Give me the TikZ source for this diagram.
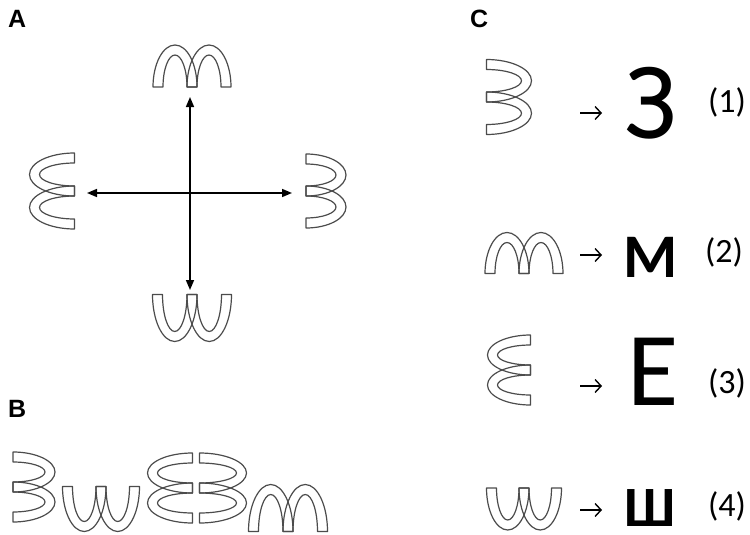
\documentclass[tikz,border=0pt]{standalone}
\usepackage{fontspec}
\setmainfont{Carlito}
\newfontfamily\labelfont{Liberation Sans}
\usetikzlibrary{arrows.meta}
\tikzset{
  shapeline/.style={draw=black!70, line width=1.2pt, line join=round},
  dblarrow/.style={line width=1.5pt, {Triangle[length=10pt,width=8pt]}-{Triangle[length=10pt,width=8pt]}},
  maparrow/.style={line width=1.4pt, -{Straight Barb[length=6pt,width=13pt,line width=1.4pt]}},
  panel/.style={font=\labelfont\bfseries\fontsize{25}{25}\selectfont, anchor=base west, inner sep=0pt},
  bigglyph/.style={anchor=base, inner sep=0pt},
  numlabel/.style={anchor=base, inner sep=0pt, font=\fontsize{34}{34}\selectfont},
  pics/mshape/.style n args={3}{code={
     \pgfmathsetmacro\ao{(#1+#3)/4}
     \pgfmathsetmacro\ai{\ao-#3}
     \pgfmathsetmacro\cc{\ao-#3/2}
     \pgfmathsetmacro\bo{#2}
     \pgfmathsetmacro\bi{#2-#3}
     \pgfmathsetmacro\hb{#2/2}
     \foreach \s in {-1,1}{
       \draw[shapeline] (\s*\cc-\ao,\hb) arc[start angle=180,end angle=360,x radius=\ao,y radius=\bo]
         -- (\s*\cc+\ai,\hb) arc[start angle=360,end angle=180,x radius=\ai,y radius=\bi] -- cycle;
     }
  }},
}
\begin{document}
\begin{tikzpicture}[x=1pt,y=-1pt]
\useasboundingbox (0,0) rectangle (750,535);
\fill[white] (0,0) rectangle (750,535);

% panel labels
\node[panel] (labA) at (8,28) {A};
\node[panel] (labB) at (8,417) {B};
\node[panel] (labC) at (470,28) {C};

% ---- panel A ----
\pic at (192,66) {mshape={78}{42}{10}};
\pic[rotate=-90] at (326,191) {mshape={74}{40}{10}};
\pic[rotate=90] at (52,191) {mshape={76}{45}{10}};
\pic[rotate=180] at (192,318) {mshape={79}{47}{10}};
\coordinate (aT) at (190,97);
\coordinate (aB) at (190,290);
\coordinate (aL) at (87,193);
\coordinate (aR) at (292,193);
\draw[dblarrow] (aT) -- (aB);
\draw[dblarrow] (aL) -- (aR);

% ---- panel B ----
\pic[rotate=-90] at (34,487) {mshape={70}{42}{10}};
\pic[rotate=180] at (101,509) {mshape={77}{45}{10}};
\pic[rotate=90] at (170,488) {mshape={70}{45}{10}};
\pic[rotate=-90] at (223,488) {mshape={70}{47}{10}};
\pic at (288,508) {mshape={79}{47}{10}};

% ---- panel C ----
\pic[rotate=-90] at (509,97) {mshape={75}{45}{10}};
\pic at (524,253) {mshape={78}{41}{10}};
\pic[rotate=90] at (509,370) {mshape={70}{43}{10}};
\pic[rotate=180] at (524,509) {mshape={75}{42}{10}};

\foreach \i/\y in {1/113, 2/255, 3/386, 4/510}{
  \coordinate (s\i) at (580,\y);
  \coordinate (e\i) at (602,\y);
  \draw[maparrow] (s\i) -- (e\i);
}

\node[bigglyph, font=\fontsize{110}{110}\selectfont] (l1) at (651,138) {З};
\node[bigglyph, font=\bfseries\fontsize{62}{62}\selectfont] (l2) at (651,277) {М};
\node[bigglyph, font=\fontsize{105}{105}\selectfont] (l3) at (653,405) {Е};
\node[bigglyph, font=\bfseries\fontsize{57}{57}\selectfont] (l4) at (650,526) {Ш};

\node[numlabel] (n1) at (727,112) {(1)};
\node[numlabel] (n2) at (724,262) {(2)};
\node[numlabel] (n3) at (727,393) {(3)};
\node[numlabel] (n4) at (727,516) {(4)};
\end{tikzpicture}
\end{document}
